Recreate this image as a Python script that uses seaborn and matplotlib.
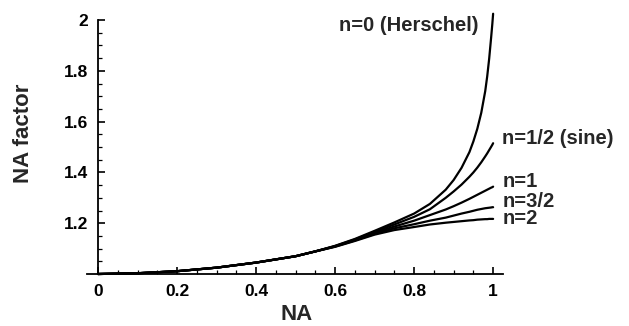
import matplotlib
matplotlib.use("Agg")
import matplotlib.pyplot as plt
from matplotlib.ticker import FixedLocator
import seaborn as sns
import pandas as pd

# ---- data ----
na = [0.0, 0.1, 0.2, 0.3, 0.4, 0.5, 0.55, 0.6, 0.65, 0.7, 0.75, 0.8, 0.84,
      0.88, 0.9, 0.92, 0.94, 0.95, 0.96, 0.97, 0.98, 0.985, 0.99, 0.995,
      0.998, 1.0]
n0 = [1.000, 1.003, 1.011, 1.025, 1.045, 1.070, 1.089, 1.111, 1.138, 1.170,
      1.203, 1.238, 1.276, 1.332, 1.370, 1.418, 1.480, 1.522, 1.572, 1.635,
      1.720, 1.778, 1.848, 1.932, 1.985, 2.025]
n05 = [1.000, 1.003, 1.011, 1.025, 1.045, 1.070, 1.089, 1.110, 1.136, 1.166,
       1.195, 1.225, 1.255, 1.300, 1.325, 1.352, 1.383, 1.400, 1.419, 1.440,
       1.463, 1.475, 1.488, 1.501, 1.509, 1.515]
n1 = [1.000, 1.003, 1.011, 1.025, 1.045, 1.070, 1.089, 1.109, 1.134, 1.162,
      1.187, 1.210, 1.232, 1.254, 1.267, 1.281, 1.296, 1.304, 1.312, 1.320,
      1.328, 1.332, 1.336, 1.340, 1.342, 1.344]
n15 = [1.000, 1.003, 1.011, 1.025, 1.045, 1.070, 1.089, 1.108, 1.132, 1.158,
       1.180, 1.196, 1.210, 1.222, 1.230, 1.238, 1.245, 1.249, 1.253, 1.256,
       1.259, 1.260, 1.261, 1.262, 1.263, 1.263]
n2 = [1.000, 1.003, 1.011, 1.025, 1.045, 1.070, 1.089, 1.107, 1.130, 1.155,
      1.173, 1.185, 1.195, 1.202, 1.205, 1.208, 1.211, 1.212, 1.214, 1.215,
      1.216, 1.216, 1.217, 1.217, 1.217, 1.217]
series_names = ["n=0 (Herschel)", "n=1/2 (sine)", "n=1", "n=3/2", "n=2"]
series_values = [n0, n05, n1, n15, n2]
label_y = [1.98, 1.535, 1.364, 1.287, 1.217]

x_ticks = [0, 0.2, 0.4, 0.6, 0.8, 1]
x_ticklabels = ["0", "0.2", "0.4", "0.6", "0.8", "1"]
y_ticks = [1.2, 1.4, 1.6, 1.8, 2.0]
y_ticklabels = ["1.2", "1.4", "1.6", "1.8", "2"]

rows = []
for name, vals in zip(series_names, series_values):
    for x, y in zip(na, vals):
        rows.append({"NA": x, "factor": y, "n": name})
df = pd.DataFrame(rows)

sns.set_style("ticks")
plt.rcParams["font.family"] = ["Liberation Sans", "DejaVu Sans"]

fig = plt.figure(figsize=(6.29, 3.26), dpi=100)
ax = fig.add_axes([87 / 629, 52 / 326, (503 - 87) / 629, (274 - 15) / 326])

sns.lineplot(data=df, x="NA", y="factor", hue="n", hue_order=series_names,
             palette=["black"] * 5, legend=False, linewidth=1.6, ax=ax,
             estimator=None, sort=True)
for line in ax.lines:
    line.set_clip_on(False)

ax.set_xlim(-11 / 395, 1.025)
ax.set_ylim(1.0, 2.02)

for s in ["top", "right"]:
    ax.spines[s].set_visible(False)
ax.spines["left"].set_position(("data", 0))
ax.spines["left"].set_bounds(1.0, 2.0)
for s in ["left", "bottom"]:
    ax.spines[s].set_linewidth(1.3)
    ax.spines[s].set_color("black")

ax.xaxis.set_major_locator(FixedLocator(x_ticks))
ax.set_xticklabels(x_ticklabels)
ax.yaxis.set_major_locator(FixedLocator(y_ticks))
ax.set_yticklabels(y_ticklabels)
ax.xaxis.set_minor_locator(FixedLocator([i * 0.05 for i in range(21)
                                         if i % 4 != 0]))
ax.yaxis.set_minor_locator(FixedLocator([1.05, 1.1, 1.15, 1.25, 1.3, 1.35,
                                         1.45, 1.5, 1.55, 1.65, 1.7, 1.75,
                                         1.85, 1.9, 1.95]))
ax.tick_params(which="both", bottom=True, left=True, top=False, right=False,
               direction="in", colors="black", zorder=5)
ax.tick_params(which="major", length=5, width=1.2, labelsize=12.5, pad=7)
ax.tick_params(which="minor", length=3, width=0.9)
for axis in (ax.xaxis, ax.yaxis):
    for t in axis.get_major_ticks() + axis.get_minor_ticks():
        t.tick1line.set_visible(True)
        t.tick1line.set_color("black")
for lab in ax.get_xticklabels() + ax.get_yticklabels():
    lab.set_fontweight("bold")

ax.set_xlabel("NA", fontsize=16, fontweight="bold", va="center")
ax.set_ylabel("NA factor", fontsize=16, fontweight="bold", va="center",
              ha="center")
ax.xaxis.set_label_coords((297 - 87) / (503 - 87), -(315 - 274) / 259)
ax.yaxis.set_label_coords(-(87 - 24) / 416, (274 - 133) / 259)

for name, ly in zip(series_names, label_y):
    if name.startswith("n=0"):
        ax.text(0.962, ly, name, fontsize=14.5, fontweight="bold",
                ha="right", va="center")
    else:
        ax.text(1.023, ly, name, fontsize=14.5, fontweight="bold",
                ha="left", va="center")

fig.savefig("out.png", dpi=100, facecolor="white")
